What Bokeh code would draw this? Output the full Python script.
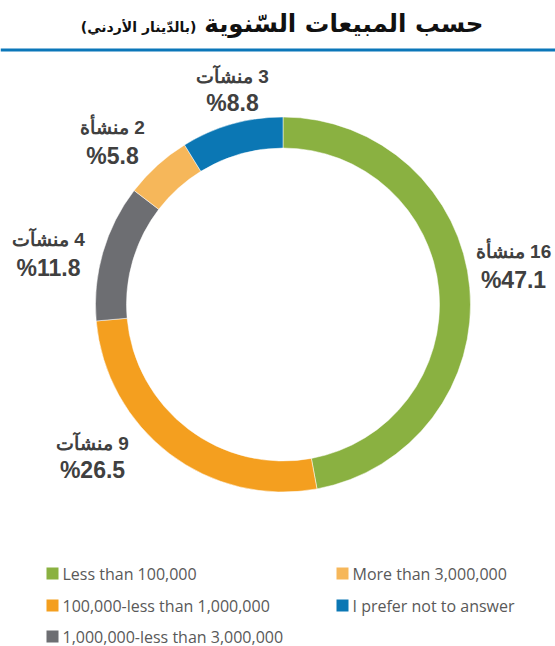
import math
from bokeh.plotting import figure
from bokeh.models import Range1d, ColumnDataSource
from bokeh.core.properties import value
from bokeh.embed import file_html
from bokeh.resources import INLINE

# ---- data ----
categories = ["Less than 100,000", "100,000-less than 1,000,000",
              "1,000,000-less than 3,000,000", "More than 3,000,000",
              "I prefer not to answer"]
counts = [16, 9, 4, 2, 3]
percents = [47.1, 26.5, 11.8, 5.8, 8.8]
count_words = ["منشأة", "منشآت", "منشآت", "منشأة", "منشآت"]
colors = ["#8AB141", "#F49F1F", "#6D6E72", "#F6B75A", "#0B77B4"]
title_main = "حسب المبيعات السّنوية"
title_sub = "(بالدّينار الأردني)"

# ---- layout (page pixel coords; data x = page x, data y = H - page y) ----
W, H = 555, 646
p = figure(width=W, height=H, output_backend="svg", toolbar_location=None,
           x_range=Range1d(0, W), y_range=Range1d(0, H),
           min_border=0, outline_line_color=None)
p.axis.visible = False
p.grid.visible = False
p.background_fill_color = "white"

def Y(py):
    return H - py

cx, cy = 282.5, 304.0
r_out, r_in = 187.5, 156.5

total = sum(percents)
starts, ends = [], []
acc = 0.0
for v in percents:
    starts.append(math.pi / 2 - 2 * math.pi * acc / total)
    acc += v
    ends.append(math.pi / 2 - 2 * math.pi * acc / total)

src = ColumnDataSource(dict(start=starts, end=ends, color=colors))
p.annular_wedge(x=cx, y=Y(cy), inner_radius=r_in, outer_radius=r_out,
                start_angle="start", end_angle="end", direction="clock",
                fill_color="color", line_color="white", line_width=0.5,
                source=src)

# slice labels
lab_x = [513, 92, 48, 112, 232]
lab_y1 = [251, 443, 239, 127, 76]
lab_y2 = [279, 469, 267, 155, 102]
line1 = ["\u200F%d %s" % (c, w) for c, w in zip(counts, count_words)]
line2 = ["%%%.1f" % v for v in percents]
p.text(x=lab_x, y=[Y(v) for v in lab_y1], text=line1, text_align="center",
       text_baseline="middle", text_font=value("Liberation Sans"),
       text_font_style="bold", text_font_size="19px", text_color="#404040")
p.text(x=lab_x, y=[Y(v) for v in lab_y2], text=line2, text_align="center",
       text_baseline="middle", text_font=value("Liberation Sans"),
       text_font_style="bold", text_font_size="23px", text_color="#404040")

# title
p.text(x=[483], y=[Y(23)], text=[title_main], text_align="right",
       text_baseline="middle", text_font=value("DejaVu Sans"),
       text_font_style="bold", text_font_size="24.5px", text_color="#111111")
p.text(x=[196], y=[Y(26)], text=[title_sub], text_align="right",
       text_baseline="middle", text_font=value("DejaVu Sans"),
       text_font_style="bold", text_font_size="14px", text_color="#111111")
p.segment(x0=[0], y0=[Y(49.5)], x1=[W], y1=[Y(49.5)],
          line_color="#0B77B9", line_width=3)

# legend (two columns, filled column by column)
leg_x = [52, 52, 52, 342, 342]
leg_y = [573, 605, 636, 573, 605]
p.rect(x=leg_x, y=[Y(v) for v in leg_y], width=12, height=12,
       width_units="screen", height_units="screen",
       fill_color=colors, line_color=None)
p.text(x=[v + 10 for v in leg_x], y=[Y(v) for v in leg_y], text=categories,
       text_align="left", text_baseline="middle",
       text_font=value("Open Sans"), text_font_size="16px",
       text_color="#595959")

open("out.html", "w").write(file_html(p, INLINE))
